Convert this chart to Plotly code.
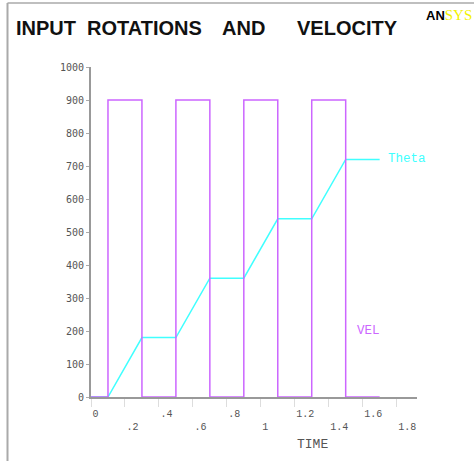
import plotly.graph_objects as go

# ---- data ----
time_pts = [0, 0.1, 0.3, 0.5, 0.7, 0.9, 1.1, 1.3, 1.5, 1.7]
vel_vals = [0, 900, 0, 900, 0, 900, 0, 900, 0, 0]
theta_vals = [0, 0, 180, 180, 360, 360, 540, 540, 720, 720]

x_tickvals = [0, 0.2, 0.4, 0.6, 0.8, 1.0, 1.2, 1.4, 1.6, 1.8]
x_ticktext = ['0', '<br>.2', '.4', '<br>.6', '.8', '<br>1', '1.2', '<br>1.4', '1.6', '<br>1.8']
y_tickvals = [0, 100, 200, 300, 400, 500, 600, 700, 800, 900, 1000]

title_words = ['INPUT', 'ROTATIONS', 'AND', 'VELOCITY']
title_centers_px = [46, 144.5, 243.5, 347.5]

W, H = 474, 461
MAG = '#cc66ff'
CYAN = '#40ffff'

fig = go.Figure()
fig.add_trace(go.Scatter(x=time_pts, y=theta_vals, mode='lines',
                         line=dict(color=CYAN, width=1.5), name='Theta',
                         hoverinfo='skip'))
fig.add_trace(go.Scatter(x=time_pts, y=vel_vals, mode='lines',
                         line=dict(color=MAG, width=1.5, shape='hv'), name='VEL',
                         hoverinfo='skip'))

annotations = []
for w, cx in zip(title_words, title_centers_px):
    annotations.append(dict(text=w, xref='paper', yref='paper',
                            x=cx / W, y=(H - 27.5) / H, xanchor='center', yanchor='middle',
                            showarrow=False,
                            font=dict(family='Liberation Sans', size=20, color='#111111',
                                      weight='bold'),
                            ))
annotations.append(dict(
    text="<b>AN</b><span style='font-family:Liberation Serif;color:#f2f200;font-size:15px'>SYS</span>",
    xref='paper', yref='paper', x=424 / W, y=(H - 15) / H,
    xanchor='left', yanchor='middle', showarrow=False,
    font=dict(family='Liberation Sans', size=13, color='#000000')))
annotations.append(dict(text='Theta', xref='x', yref='y', x=1.735, y=720,
                        xanchor='left', yanchor='middle', showarrow=False,
                        font=dict(family='Liberation Mono', size=12.5, color=CYAN)))
annotations.append(dict(text='VEL', xref='x', yref='y', x=1.553, y=200,
                        xanchor='left', yanchor='middle', showarrow=False,
                        font=dict(family='Liberation Mono', size=12.5, color=MAG)))
annotations.append(dict(text='TIME', xref='paper', yref='paper', x=312 / W, y=(H - 444.5) / H,
                        xanchor='center', yanchor='middle', showarrow=False,
                        font=dict(family='Liberation Mono', size=13, color='#555555')))

fig.update_layout(
    width=W, height=H, autosize=False,
    margin=dict(l=0, r=0, t=0, b=0),
    paper_bgcolor='white', plot_bgcolor='white',
    showlegend=False,
    annotations=annotations,
    shapes=[
        dict(type='line', xref='paper', yref='paper', x0=7.5 / W, x1=7.5 / W, y0=0, y1=(H - 3) / H,
             line=dict(color='#aaaaaa', width=2)),
        dict(type='line', xref='paper', yref='paper', x0=7.5 / W, x1=1, y0=(H - 3) / H, y1=(H - 3) / H,
             line=dict(color='#aaaaaa', width=1.5)),
    ],
    xaxis=dict(domain=[91 / W, 417 / W], range=[0, 1.92], showgrid=False, zeroline=False,
               showline=True, linecolor='#999999', linewidth=2,
               tickmode='array', tickvals=x_tickvals, ticktext=x_ticktext,
               ticks='outside', ticklen=8, tickcolor='#dddddd', tickwidth=1,
               ticklabelposition='outside right', ticklabelstandoff=6,
               tickfont=dict(family='Liberation Mono', size=10, color='#555555'),
               automargin=False, fixedrange=True),
    yaxis=dict(domain=[(H - 397) / H, (H - 67) / H], range=[0, 1000], showgrid=False, zeroline=False,
               showline=True, linecolor='#999999', linewidth=2,
               tickmode='array', tickvals=y_tickvals,
               ticks='outside', ticklen=3, tickcolor='#aaaaaa', tickwidth=1,
               tickfont=dict(family='DejaVu Sans Mono', size=10, color='#555555'),
               automargin=False, fixedrange=True),
)

fig.write_html('out.html', config={'displayModeBar': False},
               post_script="document.body.style.margin='0';document.body.style.overflow='hidden';")
